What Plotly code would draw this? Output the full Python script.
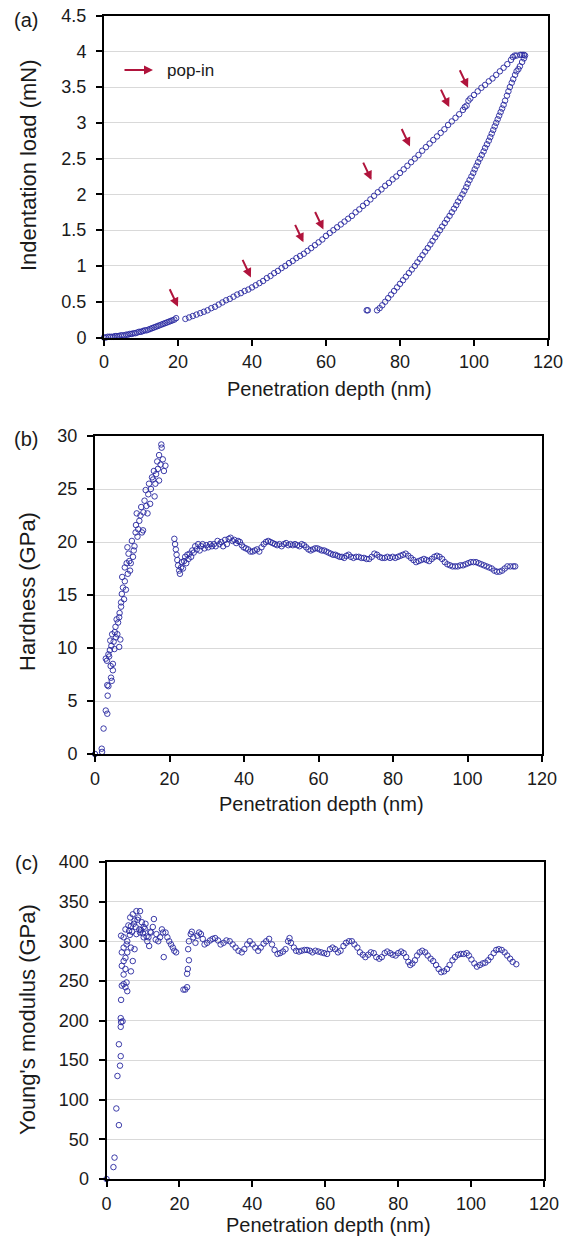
import plotly.graph_objects as go

# ---------------- data ----------------
# (a) load-depth curve
load_depth_1 = [0, 0.5, 1, 1.5, 2, 2.5, 3, 3.5, 4, 4.5, 5, 5.5, 6, 6.5, 7, 7.5, 8, 8.5, 9, 9.5,
                10, 10.5, 11, 11.5, 12, 12.5, 13, 13.5, 14, 14.5, 15, 15.5, 16, 16.5, 17, 17.5,
                18, 18.5, 19, 19.5]
load_1 = [0.00, 0.00, 0.01, 0.01, 0.01, 0.01, 0.02, 0.02, 0.02, 0.03, 0.03, 0.03, 0.04, 0.04,
          0.05, 0.05, 0.06, 0.06, 0.07, 0.08, 0.08, 0.09, 0.10, 0.10, 0.11, 0.12, 0.13, 0.14,
          0.15, 0.16, 0.17, 0.18, 0.19, 0.20, 0.21, 0.22, 0.23, 0.24, 0.25, 0.27]
load_depth_2 = [22, 23, 24, 25, 26, 27, 28, 29, 30, 31, 32, 33, 34, 35, 36, 37, 38, 39, 40, 41,
                42, 43, 44, 45, 46, 47, 48, 49, 50, 51, 52, 53, 54, 55, 56, 57, 58, 59, 60, 61,
                62, 63, 64, 65, 66, 67, 68, 69, 70, 71, 72, 73, 74, 75, 76, 77, 78, 79, 80, 81,
                82, 83, 84, 85, 86, 87, 88, 89, 90, 91, 92, 93, 94, 95, 96, 97, 97.5, 98, 98.5,
                99, 100, 101, 102, 103, 104, 105, 106, 107, 108, 109, 110, 110.5, 111, 111.5,
                112.5, 113, 113.5]
load_2 = [0.26, 0.28, 0.30, 0.32, 0.34, 0.36, 0.38, 0.41, 0.43, 0.46, 0.49, 0.52, 0.54, 0.57,
          0.60, 0.62, 0.65, 0.67, 0.70, 0.73, 0.76, 0.79, 0.83, 0.86, 0.90, 0.93, 0.97, 1.00,
          1.04, 1.07, 1.11, 1.14, 1.17, 1.21, 1.25, 1.29, 1.33, 1.37, 1.42, 1.46, 1.50, 1.54,
          1.58, 1.62, 1.66, 1.70, 1.75, 1.79, 1.84, 1.88, 1.93, 1.98, 2.03, 2.07, 2.12, 2.16,
          2.21, 2.25, 2.30, 2.35, 2.40, 2.45, 2.50, 2.55, 2.61, 2.66, 2.71, 2.76, 2.81, 2.86,
          2.91, 2.97, 3.02, 3.07, 3.12, 3.18, 3.22, 3.24, 3.31, 3.34, 3.39, 3.44, 3.49, 3.53,
          3.58, 3.62, 3.67, 3.72, 3.77, 3.82, 3.88, 3.92, 3.94, 3.94, 3.95, 3.95, 3.95]
unload_depth = [113.8, 113.5, 113.0, 112.4, 112.0, 111.5, 111.1, 110.6, 110.2, 109.7, 109.3,
                108.9, 108.4, 108.0, 107.6, 107.2, 106.8, 106.4, 106.0, 105.6, 105.2, 104.8,
                104.4, 104.0, 103.5, 103.0, 102.6, 102.1, 101.6, 101.1, 100.7, 100.2, 99.8,
                99.3, 98.8, 98.3, 97.9, 97.4, 96.9, 96.3, 95.7, 95.2, 94.6, 94.0, 93.4, 92.7,
                92.1, 91.4, 90.8, 90.1, 89.5, 88.8, 88.2, 87.5, 86.8, 86.1, 85.4, 84.7, 84.0,
                83.2, 82.4, 81.6, 80.8, 80.0, 79.2, 78.4, 77.6, 76.8, 76.0, 75.2, 74.5, 73.8,
                71.3, 71.0]
unload_load = [3.94, 3.90, 3.85, 3.79, 3.75, 3.72, 3.67, 3.61, 3.56, 3.50, 3.44, 3.38, 3.31,
               3.25, 3.20, 3.15, 3.10, 3.05, 3.00, 2.95, 2.90, 2.85, 2.80, 2.75, 2.70, 2.65,
               2.60, 2.55, 2.50, 2.45, 2.40, 2.35, 2.30, 2.25, 2.20, 2.15, 2.10, 2.05, 2.00,
               1.95, 1.90, 1.85, 1.80, 1.75, 1.70, 1.65, 1.60, 1.55, 1.50, 1.45, 1.40, 1.35,
               1.30, 1.25, 1.20, 1.15, 1.10, 1.05, 1.00, 0.95, 0.90, 0.85, 0.80, 0.75, 0.70,
               0.65, 0.60, 0.55, 0.50, 0.45, 0.41, 0.38, 0.38, 0.38]
# pop-in arrow heads (depth nm, load mN)
popin_depth = [20.0, 39.7, 53.9, 59.3, 72.3, 82.7, 93.3, 98.4]
popin_load = [0.43, 0.84, 1.33, 1.51, 2.20, 2.67, 3.22, 3.49]

# (b) hardness
hard_depth_1 = [0, 1.8, 1.9, 2.3, 2.9, 3.3, 3.4, 3.3, 3.6, 4.3, 4.5, 2.9, 3.2, 4.8, 4.8, 3.6, 4.0,
                4.1, 4.4, 4.6, 5.0, 5.2, 5.5, 5.3, 6.0, 6.2, 6.5, 6.5, 6.8, 7.0, 6.6, 7.2, 7.0,
                7.5, 7.3, 7.8, 8.0, 8.5, 8.0, 8.3, 8.8, 9.0, 8.7, 9.4, 9.2, 9.9, 10.4, 10.2,
                10.9, 11.2, 11.4, 11.0, 11.9, 11.6, 12.4, 12.9, 12.2, 13.3, 13.0, 13.6, 14.1,
                13.8, 14.5, 14.8, 14.3, 15.3, 15.0, 15.8, 16.2, 15.6, 16.7, 16.4, 17.2, 17.2,
                16.9, 17.8, 17.9, 18.2, 18.9, 18.5, 17.6, 16.0, 12.6, 10.6, 9.6, 5.8, 3.8, 4.2,
                5.6]
hard_1 = [0, 0.5, 0.2, 2.4, 4.1, 3.8, 5.5, 6.5, 6.4, 7.2, 6.9, 9.0, 8.8, 7.9, 8.5, 9.4, 9.8,
          10.7, 10.2, 11.3, 10.6, 9.9, 12.0, 11.5, 11.3, 12.4, 12.9, 10.1, 10.8, 13.9, 13.3,
          15.1, 14.3, 15.7, 16.7, 14.6, 17.6, 18.0, 16.3, 15.5, 17.0, 18.9, 19.5, 17.3, 18.2,
          20.1, 19.2, 18.6, 20.9, 22.7, 20.5, 21.6, 22.0, 21.2, 23.3, 21.1, 22.5, 23.9, 22.8,
          24.9, 22.7, 23.4, 25.5, 23.6, 24.5, 26.1, 25.0, 26.7, 25.5, 25.9, 27.6, 26.4, 28.2,
          25.8, 26.9, 29.2, 28.9, 27.8, 27.2, 26.7, 27.3, 24.3, 20.9, 19.6, 18.0, 12.7, 9.2,
          8.3, 11.0]
hard_depth_2 = [21.3, 21.5, 21.7, 21.9, 22.1, 22.3, 22.6, 22.8, 23.1, 23.3, 23.6, 23.9, 24.2,
                24.5, 24.8, 25.1, 25.4, 25.8, 26.1, 26.5, 26.9, 27.3, 27.7, 28.1, 28.5, 28.9,
                29.4, 29.9, 30.4, 30.9, 31.4, 31.9, 32.4, 32.9, 33.4, 33.9, 34.4, 34.9, 35.4,
                35.9, 36.4, 36.9, 37.4, 37.9, 38.4, 38.9, 39.4, 39.9, 40.5, 41.1, 41.7, 42.3,
                42.9, 43.5, 44.1, 44.7, 45.3, 45.9, 46.5, 47.1, 47.7, 48.3, 48.9, 49.5, 50.1,
                50.7, 51.3, 51.9, 52.5, 53.1, 53.7, 54.3, 54.9, 55.5, 56.1, 56.7, 57.3, 57.9,
                58.5, 59.1, 59.7, 60.3, 60.9, 61.5, 62.1, 62.7, 63.3, 63.9, 64.5, 65.1, 65.7,
                66.3, 66.9, 67.5, 68.1, 68.7, 69.4, 70.1, 70.8, 71.5, 72.2, 72.9, 73.6, 74.3,
                75.0, 75.7, 76.4, 77.1, 77.8, 78.5, 79.2, 79.9, 80.6, 81.3, 82.0, 82.7, 83.4,
                84.1, 84.8, 85.5, 86.2, 86.9, 87.6, 88.3, 89.0, 89.7, 90.4, 91.1, 91.8, 92.5,
                93.2, 93.9, 94.6, 95.3, 96.0, 96.7, 97.4, 98.1, 98.8, 99.5, 100.2, 100.9, 101.6,
                102.3, 103.0, 103.7, 104.4, 105.1, 105.8, 106.5, 107.2, 107.9, 108.6, 109.3,
                110.0, 110.7, 111.5, 112.3, 112.8]
hard_2 = [20.3, 19.8, 19.3, 18.8, 18.3, 17.8, 17.3, 17.0, 17.6, 18.1, 17.5, 18.2, 18.6, 18.0,
          18.8, 18.4, 18.9, 18.6, 19.2, 19.0, 19.6, 19.3, 19.8, 19.2, 19.6, 19.8, 19.4, 19.7,
          19.5, 19.8, 19.6, 19.8, 19.6, 20.1, 19.8, 20.0, 19.6, 20.2, 19.8, 20.3, 20.4, 20.1,
          20.2, 19.9, 20.1, 20.0, 19.7, 19.5, 19.4, 19.3, 19.1, 19.1, 19.2, 19.3, 19.1, 19.5,
          19.8, 20.0, 20.1, 20.0, 19.9, 19.8, 19.7, 19.8, 19.6, 19.8, 19.9, 19.7, 19.8, 19.7,
          19.8, 19.7, 19.6, 19.8, 19.7, 19.5, 19.3, 19.2, 19.3, 19.4, 19.4, 19.3, 19.2, 19.2,
          19.1, 19.0, 18.9, 18.8, 18.8, 18.7, 18.6, 18.6, 18.5, 18.7, 18.8, 18.6, 18.5, 18.6,
          18.6, 18.5, 18.5, 18.4, 18.4, 18.6, 18.9, 18.8, 18.6, 18.5, 18.5, 18.6, 18.5, 18.6,
          18.5, 18.6, 18.7, 18.8, 18.9, 18.7, 18.5, 18.3, 18.1, 18.2, 18.3, 18.4, 18.3, 18.2,
          18.4, 18.6, 18.7, 18.6, 18.4, 18.1, 17.9, 17.8, 17.7, 17.7, 17.7, 17.8, 17.8, 17.9,
          18.0, 18.1, 18.1, 18.1, 18.0, 17.9, 17.8, 17.7, 17.6, 17.5, 17.3, 17.2, 17.2, 17.3,
          17.5, 17.7, 17.7, 17.7, 17.7]

# (c) Young's modulus
mod_depth_1 = [0, 1.9, 2.2, 2.7, 3.4, 3.0, 3.7, 3.9, 3.4, 3.9, 4.0, 4.4, 3.9, 4.0, 4.2, 4.7, 5.2,
               5.7, 5.5, 4.7, 5.2, 4.2, 4.7, 5.2, 5.7, 4.2, 4.7, 5.7, 6.7, 7.2, 6.7, 7.7, 4.7,
               4.0, 5.2, 6.2, 6.7, 6.5, 7.2, 8.2, 9.2, 8.7, 7.7, 9.7, 10.2, 10.7, 9.2, 8.2,
               10.2, 11.2, 11.7, 12.2, 12.7, 13.0, 13.7, 14.2, 14.7, 15.2, 15.5, 15.7, 16.2,
               16.7, 17.2, 17.7, 18.2, 18.6, 19.1, 6.0, 7.0, 8.0, 9.0, 10.0, 11.0, 12.0, 13.5,
               5.5, 6.4, 7.5, 8.5, 9.5, 10.5, 11.5]
mod_1 = [0, 15, 27, 89, 68, 130, 143, 155, 170, 192, 198, 199, 203, 226, 244, 246, 242, 237,
         248, 258, 265, 269, 275, 279, 286, 286, 292, 300, 262, 275, 292, 290, 305, 307, 315,
         313, 319, 330, 334, 338, 338, 330, 326, 324, 318, 322, 311, 309, 305, 300, 294, 311,
         318, 328, 309, 300, 305, 315, 311, 280, 311, 305, 300, 296, 292, 288, 286, 320, 312,
         318, 315, 310, 306, 312, 302, 296, 308, 322, 327, 314, 316, 305]
mod_depth_2 = [21.1, 21.6, 22.1, 22.1, 22.3, 22.6, 22.4, 22.6, 23.1, 23.4, 23.8, 24.4, 24.9,
               25.4, 25.9, 26.4, 26.9, 27.6, 28.4, 29.1, 29.8, 30.6, 31.3, 32.1, 32.9, 33.8,
               34.6, 35.4, 36.2, 37.1, 37.8, 38.6, 39.3, 40.1, 40.8, 41.6, 42.3, 43.1, 43.8,
               44.6, 45.4, 46.1, 46.9, 47.6, 48.4, 49.1, 49.8, 50.2, 50.6, 51.4, 52.0, 52.8,
               53.5, 54.3, 55.0, 55.8, 56.5, 57.3, 58.1, 58.9, 59.7, 60.5, 61.3, 62.0, 62.7,
               63.5, 64.2, 65.0, 65.7, 66.5, 67.3, 68.0, 68.8, 69.5, 70.3, 71.0, 71.8, 72.5,
               73.3, 74.0, 74.8, 75.5, 76.3, 77.0, 77.8, 78.5, 79.3, 80.0, 80.8, 81.5, 82.2,
               82.8, 83.3, 83.9, 84.6, 85.2, 85.9, 86.6, 87.4, 88.1, 88.9, 89.6, 90.4, 91.1,
               91.8, 92.6, 93.4, 94.1, 94.9, 95.6, 96.4, 97.2, 98.0, 98.8, 99.4, 100.1, 100.9,
               101.6, 102.4, 103.2, 103.9, 104.7, 105.4, 106.2, 106.9, 107.6, 108.4, 109.2,
               109.9, 110.7, 111.4, 112.4]
mod_2 = [239, 239, 242, 259, 265, 276, 290, 300, 309, 312, 305, 298, 307, 311, 309, 303, 296,
         298, 301, 303, 304, 301, 296, 298, 301, 300, 296, 292, 288, 286, 290, 296, 300, 296,
         292, 288, 292, 297, 300, 303, 296, 289, 284, 285, 287, 290, 300, 304, 298, 292, 288,
         287, 288, 289, 289, 288, 286, 288, 287, 286, 285, 284, 290, 292, 290, 286, 288, 294,
         298, 300, 300, 296, 292, 286, 283, 280, 283, 286, 285, 280, 278, 280, 285, 287, 285,
         283, 282, 285, 287, 285, 280, 274, 270, 272, 276, 282, 286, 288, 286, 282, 278, 275,
         270, 265, 261, 262, 265, 270, 276, 280, 283, 284, 284, 285, 282, 277, 272, 268, 270,
         272, 273, 276, 280, 285, 289, 290, 289, 286, 282, 278, 274, 271]

x_ticks = [0, 20, 40, 60, 80, 100, 120]

# ---------------- figure ----------------
W, H = 570, 1238
FONT = "Liberation Sans, Arial, sans-serif"
TXT = "#1a1a1a"
MARK = dict(symbol="circle-open", size=5.5, color="rgba(40,40,160,0.9)", line=dict(width=1))
ARROW = "#B0143C"


def px(x):
    return x / W


def py(y):
    return 1 - y / H


panels = [  # left, right, top, bottom in pixels
    (104, 548, 15.5, 337.5),
    (95, 542, 436, 754),
    (106.5, 544, 862, 1179),
]

series = [
    (load_depth_1, load_1, "x", "y"),
    (load_depth_2, load_2, "x", "y"),
    (unload_depth, unload_load, "x", "y"),
    (hard_depth_1, hard_1, "x2", "y2"),
    (hard_depth_2, hard_2, "x2", "y2"),
    (mod_depth_1, mod_1, "x3", "y3"),
    (mod_depth_2, mod_2, "x3", "y3"),
]

fig = go.Figure()
for xs, ys, xa, ya in series:
    fig.add_trace(go.Scatter(x=xs, y=ys, mode="markers", marker=MARK, xaxis=xa, yaxis=ya,
                             cliponaxis=False))

tickfont = dict(family=FONT, size=18, color=TXT)
yranges = [(0, 4.5, 0.5), (0, 30, 5), (0, 400, 50)]
layout = dict(width=W, height=H, margin=dict(l=0, r=0, t=0, b=0),
              paper_bgcolor="white", plot_bgcolor="white", showlegend=False)
for i, ((l, r, t, b), (y0, y1, dy)) in enumerate(zip(panels, yranges)):
    sfx = "" if i == 0 else str(i + 1)
    layout["xaxis" + sfx] = dict(
        domain=[px(l), px(r)], range=[0, 120], tickvals=x_ticks, anchor="y" + sfx,
        showgrid=False, zeroline=False, showline=True, linecolor="black", linewidth=2,
        mirror=True, ticks="outside", ticklen=6, tickwidth=2, tickcolor="black",
        tickfont=tickfont, ticklabelstandoff=1, automargin=False, fixedrange=True)
    layout["yaxis" + sfx] = dict(
        domain=[py(b), py(t)], range=[y0, y1], dtick=dy, tick0=0, anchor="x" + sfx,
        showgrid=True, gridcolor="#d9d9d9", gridwidth=1, zeroline=False, showline=True,
        linecolor="black", linewidth=2, mirror=True, ticks="outside", ticklen=6, tickwidth=2,
        tickcolor="black", tickfont=tickfont, ticklabelstandoff=6, automargin=False,
        fixedrange=True)
fig.update_layout(**layout)

ann = []
# pop-in arrows
for xd, yd in zip(popin_depth, popin_load):
    ann.append(dict(x=xd, y=yd, xref="x", yref="y", ax=-9, ay=-19, showarrow=True,
                    arrowhead=2, arrowsize=0.9, arrowwidth=2, arrowcolor=ARROW, text=""))
# legend arrow + text
ann.append(dict(x=px(153), y=py(70), xref="paper", yref="paper", ax=-30, ay=0, showarrow=True,
                arrowhead=2, arrowsize=0.9, arrowwidth=2, arrowcolor=ARROW, text=""))
ann.append(dict(x=px(165), y=py(70), xref="paper", yref="paper", text="pop-in", showarrow=False,
                xanchor="left", yanchor="middle", font=dict(family=FONT, size=17, color=TXT)))

# panel labels
for lab, (xx, yy) in zip(["(a)", "(b)", "(c)"], [(26, 20), (26, 439), (26, 863)]):
    ann.append(dict(x=px(xx), y=py(yy), xref="paper", yref="paper", text=lab, showarrow=False,
                    xanchor="center", yanchor="middle", font=dict(family=FONT, size=20, color=TXT)))

# axis titles
ytitles = ["Indentation load (mN)", "Hardness (GPa)", "Young's modulus (GPa)"]
ycent = [(29, 165), (27, 592), (27, 1020)]
for t, (xx, yy) in zip(ytitles, ycent):
    ann.append(dict(x=px(xx), y=py(yy), xref="paper", yref="paper", text=t, showarrow=False,
                    textangle=-90, xanchor="center", yanchor="middle",
                    font=dict(family=FONT, size=22, color=TXT)))
xcent = [389, 804, 1225]
for (l, r, t, b), yy in zip(panels, xcent):
    ann.append(dict(x=px((l + r) / 2 + 3), y=py(yy), xref="paper", yref="paper",
                    text="Penetration depth (nm)", showarrow=False, xanchor="center",
                    yanchor="middle", font=dict(family=FONT, size=20, color=TXT)))

fig.update_layout(annotations=ann)
fig.write_html(
    "out.html",
    config={"displayModeBar": False, "staticPlot": True},
    post_script="document.body.style.margin='0px';"
                "document.documentElement.style.overflow='hidden';"
                "document.body.style.overflow='hidden';",
)
